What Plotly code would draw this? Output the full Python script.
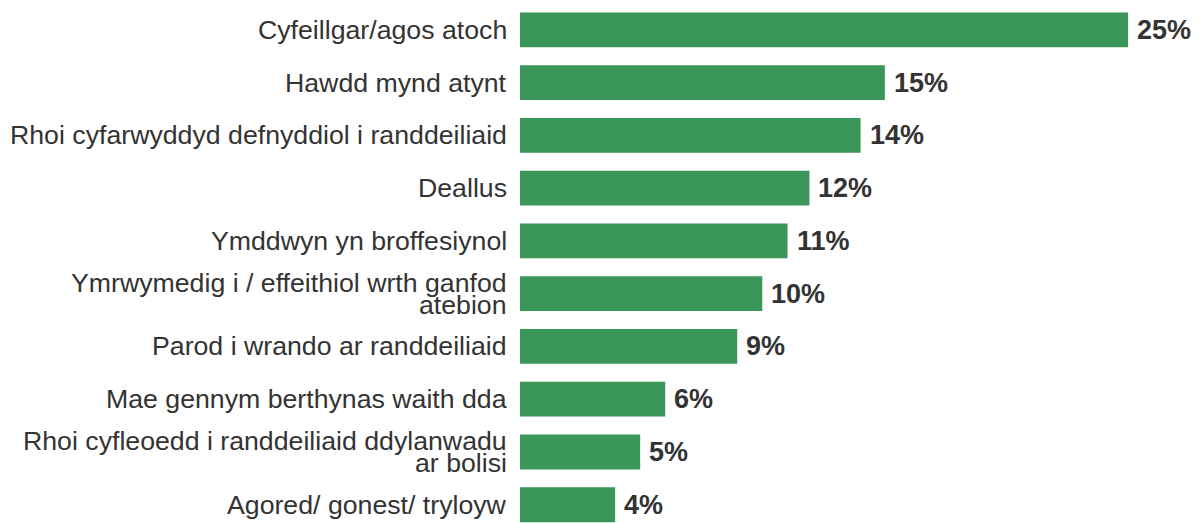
import plotly.graph_objects as go

categories = [
    "Cyfeillgar/agos atoch",
    "Hawdd mynd atynt",
    "Rhoi cyfarwyddyd defnyddiol i randdeiliaid",
    "Deallus",
    "Ymddwyn yn broffesiynol",
    "Ymrwymedig i / effeithiol wrth ganfod|atebion",
    "Parod i wrando ar randdeiliaid",
    "Mae gennym berthynas waith dda",
    "Rhoi cyfleoedd i randdeiliaid ddylanwadu|ar bolisi",
    "Agored/ gonest/ tryloyw",
]
values = [25.0, 15.0, 14.0, 11.9, 11.0, 9.96, 8.93, 5.97, 4.94, 3.91]
value_labels = ["25%", "15%", "14%", "12%", "11%", "10%", "9%", "6%", "5%", "4%"]

BAR_COLOR = "#3B9759"
TEXT_COLOR = "#333333"
FONT = "Liberation Sans, Arial, sans-serif"

positions = list(range(len(categories)))

fig = go.Figure()
fig.add_trace(go.Bar(
    x=values,
    y=positions,
    orientation="h",
    width=0.66,
    marker=dict(color=BAR_COLOR, line=dict(width=0)),
    hoverinfo="skip",
))

annotations = []
for i, (cat, v, lab) in enumerate(zip(categories, values, value_labels)):
    lines = cat.split("|")
    n = len(lines)
    for j, line in enumerate(lines):
        shift = (n - 1) * 11 - j * 22
        annotations.append(dict(
            x=0, y=i, xref="x", yref="y", text=line, showarrow=False,
            xanchor="right", yanchor="middle", xshift=-11, yshift=shift,
            font=dict(family=FONT, size=26.7, color=TEXT_COLOR),
        ))
    annotations.append(dict(
        x=v, y=i, xref="x", yref="y", text="<b>" + lab + "</b>", showarrow=False,
        xanchor="left", yanchor="middle", xshift=7, yshift=0,
        font=dict(family=FONT, size=27, color=TEXT_COLOR),
    ))

fig.update_layout(
    width=1196, height=515,
    margin=dict(l=512, r=0, t=0, b=0),
    paper_bgcolor="white", plot_bgcolor="white",
    showlegend=False,
    annotations=annotations,
    xaxis=dict(range=[0, 28.12], visible=False, fixedrange=True),
    yaxis=dict(range=[9.346, -0.413], visible=False, fixedrange=True),
)

fig.write_html("out.html")
